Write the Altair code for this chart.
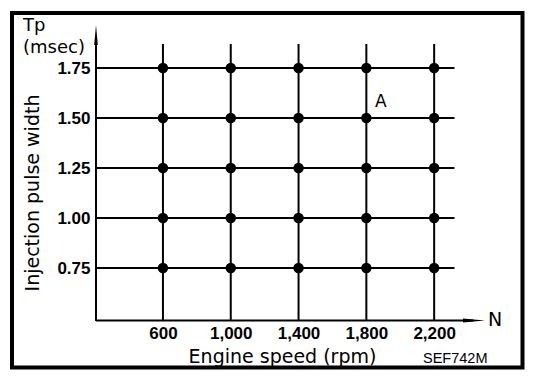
import altair as alt
import pandas as pd

# ---- chart content -------------------------------------------------------
speeds = [600, 1000, 1400, 1800, 2200]            # engine speed, rpm
pulse_widths = [0.75, 1.00, 1.25, 1.50, 1.75]     # Tp, msec
x_title = "Engine speed (rpm)"
y_title = "Injection pulse width"
y_unit_lines = ["Tp", "(msec)"]
x_unit = "N"
figure_code = "SEF742M"
annot_label = ["A"]
annot_rpm = [1886]
annot_tp = [1.555]

x_domain = [205, 2500]
y_domain = [0.485, 1.965]
grid_x_end = 2320
grid_y_end = 1.87

W, H = 389, 296
TICK_FONT = "Liberation Sans"
TITLE_FONT = "DejaVu Sans"

# ---- tables built from the lists ------------------------------------------
pts = pd.DataFrame([{"rpm": s, "tp": p} for s in speeds for p in pulse_widths])
hgrid = pd.DataFrame({"tp": pulse_widths,
                      "x0": [x_domain[0]] * len(pulse_widths),
                      "x1": [grid_x_end] * len(pulse_widths)})
vgrid = pd.DataFrame({"rpm": speeds,
                      "y0": [y_domain[0]] * len(speeds),
                      "y1": [grid_y_end] * len(speeds)})
annot = pd.DataFrame({"label": annot_label, "rpm": annot_rpm, "tp": annot_tp})
one = pd.DataFrame({"k": [0]})

xs = alt.Scale(domain=x_domain, nice=False, zero=False)
ys = alt.Scale(domain=y_domain, nice=False, zero=False)

x_axis = alt.Axis(values=speeds, format=",d", title=x_title, domain=False,
                  ticks=False, tickSize=0, grid=False, labelFont=TICK_FONT,
                  labelFontWeight="bold", labelFontSize=17, labelColor="black",
                  labelPadding=4, labelFlush=False, labelOverlap=False,
                  titleFont=TITLE_FONT, titleFontSize=19, titleFontWeight="normal",
                  titleColor="black", titleX=186, titleY=41.5, titleAlign="center",
                  titleBaseline="alphabetic")
y_axis = alt.Axis(values=pulse_widths, format=".2f", title=y_title, domain=False,
                  ticks=False, tickSize=0, grid=False, labelFont=TICK_FONT,
                  labelFontWeight="bold", labelFontSize=17, labelColor="black",
                  labelPadding=6, labelFlush=False, labelOverlap=False,
                  titleFont=TITLE_FONT, titleFontSize=19, titleFontWeight="normal",
                  titleColor="black", titleAngle=270, titleX=-57.5, titleY=167.5,
                  titleAlign="center", titleBaseline="alphabetic")

hlines = alt.Chart(hgrid).mark_rule(color="black", strokeWidth=2).encode(
    x=alt.X("x0:Q", scale=xs, axis=x_axis), x2="x1:Q",
    y=alt.Y("tp:Q", scale=ys, axis=y_axis))
vlines = alt.Chart(vgrid).mark_rule(color="black", strokeWidth=2).encode(
    x=alt.X("rpm:Q", scale=xs, axis=x_axis),
    y=alt.Y("y0:Q", scale=ys, axis=y_axis), y2="y1:Q")

dots = alt.Chart(pts).mark_circle(size=110, color="black", opacity=1).encode(
    x=alt.X("rpm:Q", scale=xs, axis=x_axis),
    y=alt.Y("tp:Q", scale=ys, axis=y_axis))

a_text = alt.Chart(annot).mark_text(font=TITLE_FONT, fontSize=17, color="black",
                                    align="center", baseline="alphabetic").encode(
    x=alt.X("rpm:Q", scale=xs, axis=x_axis),
    y=alt.Y("tp:Q", scale=ys, axis=y_axis), text="label:N")

# axis lines with arrowheads
y_axis_line = alt.Chart(one).mark_rule(color="black", strokeWidth=2).encode(
    x=alt.value(0), y=alt.value(12), y2=alt.value(H))
x_axis_line = alt.Chart(one).mark_rule(color="black", strokeWidth=2).encode(
    x=alt.value(0), x2=alt.value(W - 12), y=alt.value(H - 0.5))
y_arrow = alt.Chart(one).mark_point(shape="M0,-1L0.18,1L-0.18,1Z", filled=True,
                                    size=400, color="black", opacity=1).encode(
    x=alt.value(0), y=alt.value(10))
x_arrow = alt.Chart(one).mark_point(shape="M1,0L-1,0.18L-1,-0.18Z", filled=True,
                                    size=484, color="black", opacity=1).encode(
    x=alt.value(W - 11), y=alt.value(H - 0.5))

# decorative texts
def txt(s, x, y, font, size, weight="normal"):
    return alt.Chart(one).mark_text(text=s, font=font, fontSize=size,
                                    fontWeight=weight, color="black",
                                    align="left", baseline="alphabetic").encode(
        x=alt.value(x), y=alt.value(y))

tp_text = txt(y_unit_lines[0], -73, 6, TITLE_FONT, 18)
ms_text = txt(y_unit_lines[1], -73, 28, TITLE_FONT, 18)
n_text = txt(x_unit, 392, 301, TITLE_FONT, 19)
code_text = txt(figure_code, 327, 338, TICK_FONT, 14.5)

border = alt.Chart(one).mark_rect(filled=False, stroke="black", strokeWidth=4).encode(
    x=alt.value(-84), x2=alt.value(426.5), y=alt.value(-12), y2=alt.value(342.5))

chart = alt.layer(
    dots, border, hlines, vlines, y_axis_line, x_axis_line, y_arrow, x_arrow,
    a_text, tp_text, ms_text, n_text, code_text
).properties(
    width=W, height=H,
    autosize=alt.AutoSizeParams(type="none"),
    padding={"left": 88, "top": 17, "right": 45, "bottom": 55},
    background="white",
).configure_view(strokeWidth=0)

chart.save("out.html", embed_options={"renderer": "svg", "actions": False})
